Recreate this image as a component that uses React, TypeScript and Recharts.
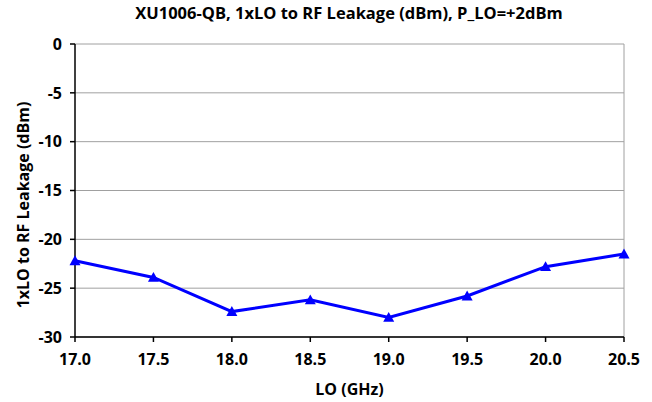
import { CartesianGrid, Line, LineChart, ReferenceLine, XAxis, YAxis, Label } from "recharts";

const loGHz = [17.0, 17.5, 18.0, 18.5, 19.0, 19.5, 20.0, 20.5];
const leakageDbm = [-22.2, -23.9, -27.4, -26.2, -28.0, -25.8, -22.8, -21.5];
const xTicks = [17.0, 17.5, 18.0, 18.5, 19.0, 19.5, 20.0, 20.5];
const yTicks = [0, -5, -10, -15, -20, -25, -30];

const data = loGHz.map((lo, i) => ({ lo, leak: leakageDbm[i] }));

const font = "'Open Sans', sans-serif";
const labelStyle = { fill: "#000", fontSize: 16, fontWeight: 700, fontFamily: font };

function Triangle(props: any) {
  const { cx, cy } = props;
  if (cx == null || cy == null) return null;
  const s = 5.5;
  return <path d={`M${cx},${cy - s} L${cx + s},${cy + s * 0.8} L${cx - s},${cy + s * 0.8} Z`} fill="#0000ff" />;
}

export default function App() {
  return (
    <div style={{ position: "absolute", left: 0, top: 0, width: 652, height: 402, background: "#fff", fontFamily: font }}>
      <div
        style={{
          position: "absolute",
          left: 349 - 320,
          width: 640,
          top: 1,
          textAlign: "center",
          fontWeight: 700,
          fontSize: 16.5,
          color: "#000",
        }}
      >
        XU1006-QB, 1xLO to RF Leakage (dBm), P_LO=+2dBm
      </div>
      <LineChart width={652} height={402} data={data} margin={{ top: 44, right: 28, bottom: 0, left: 0 }}>
        <CartesianGrid vertical={false} stroke="#a0a0a0" strokeWidth={1} />
        <ReferenceLine x={20.5} stroke="#a0a0a0" strokeWidth={1} />
        <XAxis
          dataKey="lo"
          type="number"
          domain={[17, 20.5]}
          ticks={xTicks}
          tickFormatter={(v: number) => v.toFixed(1)}
          height={65}
          stroke="#000"
          strokeWidth={1.5}
          tickSize={5}
          tickMargin={12}
          tick={labelStyle}
          interval={0}
        >
          <Label value="LO (GHz)" position="insideBottom" offset={7} style={labelStyle} />
        </XAxis>
        <YAxis
          type="number"
          domain={[-30, 0]}
          ticks={yTicks}
          width={75}
          stroke="#000"
          strokeWidth={1.5}
          tickSize={5}
          tickMargin={8}
          tick={labelStyle}
          interval={0}
        >
          <Label
            content={() => (
              <text
                x={23}
                y={205}
                transform="rotate(-90 23 205)"
                textAnchor="middle"
                dominantBaseline="central"
                style={labelStyle}
              >
                1xLO to RF Leakage (dBm)
              </text>
            )}
          />
        </YAxis>
        <Line
          dataKey="leak"
          stroke="#0000ff"
          strokeWidth={3}
          dot={<Triangle />}
          activeDot={false}
          isAnimationActive={false}
        />
      </LineChart>
    </div>
  );
}
